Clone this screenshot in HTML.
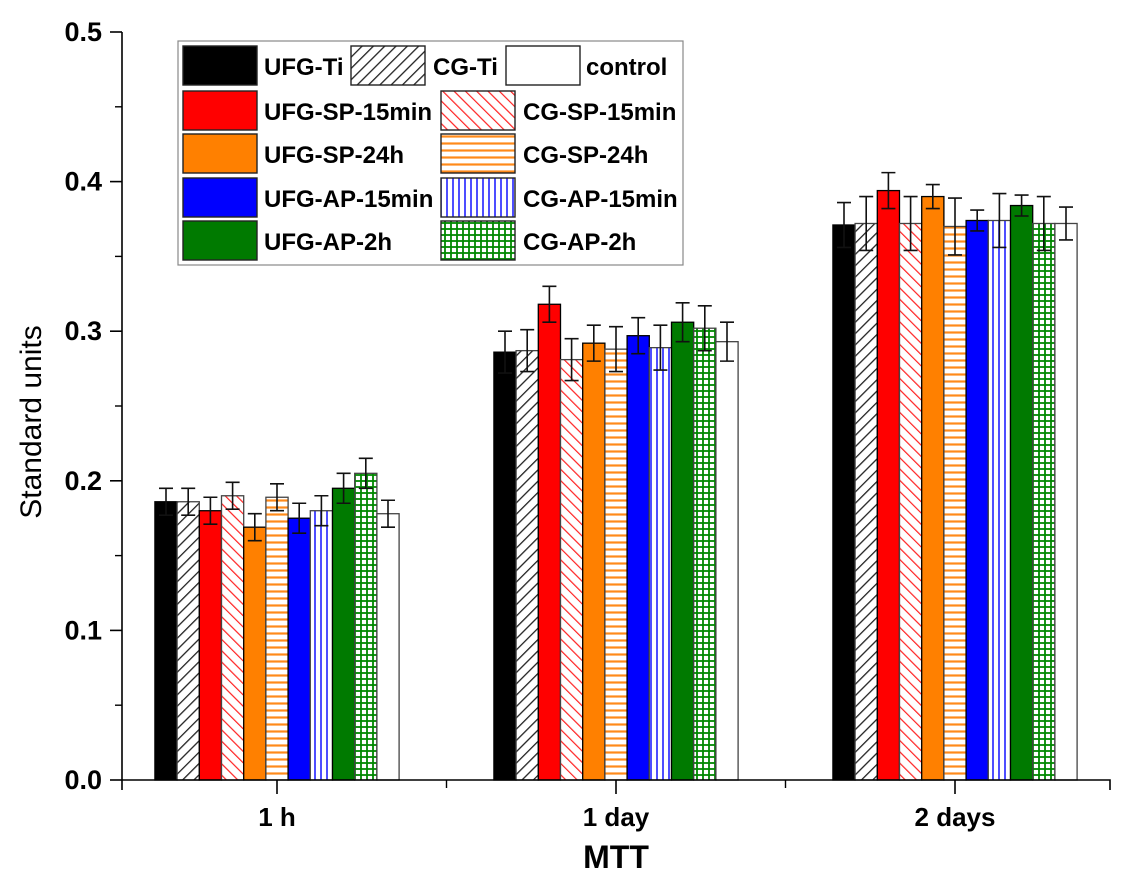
<!DOCTYPE html>
<html><head><meta charset="utf-8"><style>
body{margin:0;background:#fff;}
svg{display:block;font-family:"Liberation Sans",Arial,sans-serif;}
</style></head><body>
<svg id="chart" width="1136" height="880" viewBox="0 0 1136 880" xmlns="http://www.w3.org/2000/svg">
<defs>
<pattern id="p-black-diag" patternUnits="userSpaceOnUse" width="8" height="8" patternTransform="rotate(45)"><rect width="8" height="8" fill="#fff"/><line x1="0" y1="0" x2="0" y2="8" stroke="#222" stroke-width="2.6"/></pattern>
<pattern id="p-red-diag" patternUnits="userSpaceOnUse" width="8" height="8" patternTransform="rotate(-45)"><rect width="8" height="8" fill="#fff"/><line x1="0" y1="0" x2="0" y2="8" stroke="#f22" stroke-width="2.4"/></pattern>
<pattern id="p-orange-h" patternUnits="userSpaceOnUse" width="8" height="7"><rect width="8" height="7" fill="#fff"/><line x1="0" y1="3.5" x2="8" y2="3.5" stroke="#ff8a1a" stroke-width="2.2"/></pattern>
<pattern id="p-blue-v" patternUnits="userSpaceOnUse" width="6" height="8"><rect width="6" height="8" fill="#fff"/><line x1="3" y1="0" x2="3" y2="8" stroke="#22f" stroke-width="1.6"/></pattern>
<pattern id="p-green-grid" patternUnits="userSpaceOnUse" width="6" height="6"><rect width="6" height="6" fill="#fff"/><line x1="0" y1="1" x2="6" y2="1" stroke="#080" stroke-width="1.8"/><line x1="1" y1="0" x2="1" y2="6" stroke="#080" stroke-width="1.8"/></pattern>
</defs>
<g id="plot"></g>
</svg>
<script>
const categories = ["1 h","1 day","2 days"];
const seriesNames = ["UFG-Ti","CG-Ti","UFG-SP-15min","CG-SP-15min","UFG-SP-24h","CG-SP-24h","UFG-AP-15min","CG-AP-15min","UFG-AP-2h","CG-AP-2h","control"];
const s_h1 = [0.186,0.186,0.180,0.190,0.169,0.189,0.175,0.180,0.195,0.205,0.178];
const s_d1 = [0.286,0.287,0.318,0.281,0.292,0.288,0.297,0.289,0.306,0.302,0.293];
const s_d2 = [0.371,0.372,0.394,0.372,0.390,0.370,0.374,0.374,0.384,0.372,0.372];
const e_h1 = [0.009,0.009,0.009,0.009,0.009,0.009,0.010,0.010,0.010,0.010,0.009];
const e_d1 = [0.014,0.014,0.012,0.014,0.012,0.015,0.012,0.015,0.013,0.015,0.013];
const e_d2 = [0.015,0.018,0.012,0.018,0.008,0.019,0.007,0.018,0.007,0.018,0.011];
const yTicks = [0.0,0.1,0.2,0.3,0.4,0.5];
const values = [s_h1,s_d1,s_d2];
const errors = [e_h1,e_d1,e_d2];
const fills = ["#000","url(#p-black-diag)","#f00","url(#p-red-diag)","#ff8000","url(#p-orange-h)","#00f","url(#p-blue-v)","#007a00","url(#p-green-grid)","#fff"];
const NS="http://www.w3.org/2000/svg";
const g=document.getElementById('plot');
const y0=780,yTop=32,yMax=0.5;
function yScale(v){return y0-(v/yMax)*(y0-yTop);}
function xCat(i){return 277+339*i;}
const barW=22.2;
function mk(tag,attrs){const e=document.createElementNS(NS,tag);for(const k in attrs)e.setAttribute(k,attrs[k]);g.appendChild(e);return e;}
values.forEach((arr,ci)=>{
  const start=xCat(ci)-barW*arr.length/2;
  arr.forEach((v,si)=>{
    const x=start+si*barW;
    const r=mk('rect',{x:x,y:yScale(v),width:barW,height:y0-yScale(v),fill:fills[si],stroke:si%2===1||si===10?'#444':'#000','stroke-width':1.3});
    
    
    const cx=x+barW/2,e=errors[ci][si];
    const eb=mk('path',{d:`M${cx} ${yScale(v+e)}V${yScale(v-e)}M${cx-7} ${yScale(v+e)}h14M${cx-7} ${yScale(v-e)}h14`,stroke:'#111','stroke-width':1.6,fill:'none'});
    
    
  });
});
const ax=mk('path',{d:`M122 ${yTop}V${y0}H1110V790M122 ${y0}V790`,stroke:'#000','stroke-width':1.6,fill:'none'});


yTicks.forEach((t,i)=>{
  mk('line',{x1:110,x2:122,y1:yScale(t),y2:yScale(t),stroke:'#000','stroke-width':1.6});
  if(i<yTicks.length-1){mk('line',{x1:115,x2:122,y1:yScale(t+0.05),y2:yScale(t+0.05),stroke:'#000','stroke-width':1.4});}
  const tx=mk('text',{x:102,y:yScale(t)+9,'text-anchor':'end','font-size':27,'font-weight':'bold'});
  tx.textContent=t.toFixed(1);
  
  
});
categories.forEach((c,i)=>{
  mk('line',{x1:xCat(i),x2:xCat(i),y1:y0,y2:794,stroke:'#000','stroke-width':1.6});
  if(i<categories.length-1)mk('line',{x1:xCat(i)+169.5,x2:xCat(i)+169.5,y1:y0,y2:788,stroke:'#000','stroke-width':1.4});
  const tx=mk('text',{x:xCat(i),y:826,'text-anchor':'middle','font-size':26,'font-weight':'bold'});
  tx.textContent=c;
  
  
});
const xt=mk('text',{x:616,y:868,'text-anchor':'middle','font-size':32,'font-weight':'bold'});
xt.textContent='MTT';


const yt=mk('text',{x:0,y:0,'text-anchor':'middle','font-size':30,transform:'translate(41 422) rotate(-90)'});
yt.textContent='Standard units';


const lb=mk('rect',{x:178,y:41,width:505,height:224,fill:'#fff',stroke:'#888','stroke-width':1.2});


const legendPos=[[0,183,264],[1,351,433],[10,506,586],[2,183,264],[3,441,523],[4,183,264],[5,441,523],[6,183,264],[7,441,523],[8,183,264],[9,441,523]];
const rowY=[46,91,134,178,221];
legendPos.forEach((p,k)=>{
  const row=k<3?0:Math.floor((k-3)/2)+1;
  const y=rowY[row];
  const sw=mk('rect',{x:p[1],y:y,width:74,height:39,fill:fills[p[0]],stroke:'#222','stroke-width':1.4});
  
  
  const tx=mk('text',{x:p[2],y:y+29,'font-size':24,'font-weight':'bold'});
  tx.textContent=seriesNames[p[0]];
  
  
});
</script>
</body></html>
